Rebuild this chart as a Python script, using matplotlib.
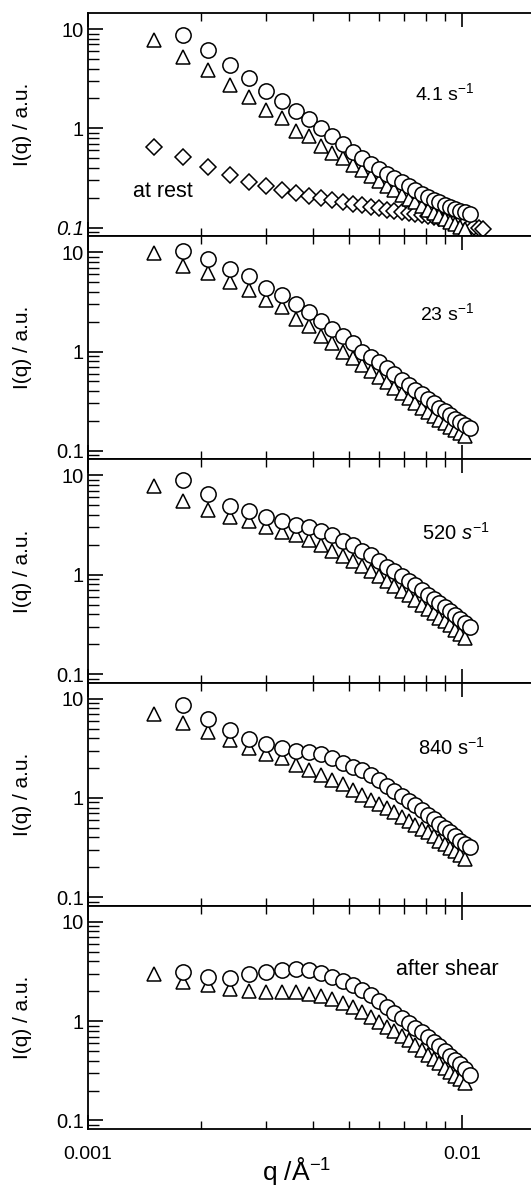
import matplotlib
matplotlib.use("Agg")
import matplotlib.pyplot as plt
from matplotlib.ticker import LogLocator, NullFormatter, FixedLocator, FixedFormatter

plt.rcParams["font.family"] = ["Liberation Sans", "DejaVu Sans"]
plt.rcParams["mathtext.fontset"] = "custom"
plt.rcParams["mathtext.rm"] = "Liberation Sans"
plt.rcParams["mathtext.it"] = "Liberation Sans:italic"

# q grid (1/Angstrom)
q = [0.0015, 0.0018, 0.0021, 0.0024, 0.0027, 0.0030, 0.0033, 0.0036, 0.0039,
     0.0042, 0.0045, 0.0048, 0.0051, 0.0054, 0.0057, 0.0060, 0.0063, 0.0066,
     0.0069, 0.0072, 0.0075, 0.0078, 0.0081, 0.0084, 0.0087, 0.0090, 0.0093,
     0.0096, 0.0099, 0.0102, 0.0105, 0.0108, 0.0111, 0.0114]

q_tri = q[0:30]
q_circ = q[1:31]
q_rest = q[0:34]

labels = ["4.1 s$^{-1}$", "23 s$^{-1}$", "520 $s^{-1}$", "840 s$^{-1}$", "after shear"]

tri = [
    [7.7, 5.2, 3.85, 2.7, 2.05, 1.52, 1.26, 0.95, 0.83, 0.67, 0.57, 0.50, 0.43,
     0.38, 0.33, 0.295, 0.265, 0.24, 0.215, 0.195, 0.18, 0.165, 0.152, 0.14,
     0.13, 0.122, 0.115, 0.108, 0.102, 0.096],
    [9.9, 7.2, 6.2, 5.0, 4.2, 3.3, 2.8, 2.15, 1.8, 1.45, 1.23, 1.0, 0.86, 0.74,
     0.64, 0.56, 0.49, 0.43, 0.38, 0.34, 0.30, 0.27, 0.245, 0.225, 0.205, 0.19,
     0.175, 0.162, 0.15, 0.14],
    [7.8, 5.5, 4.5, 3.8, 3.45, 3.0, 2.7, 2.5, 2.25, 2.0, 1.75, 1.55, 1.37, 1.22,
     1.08, 0.96, 0.86, 0.77, 0.69, 0.62, 0.56, 0.5, 0.45, 0.41, 0.37, 0.34,
     0.31, 0.28, 0.255, 0.23],
    [7.0, 5.7, 4.6, 3.8, 3.2, 2.75, 2.5, 2.17, 1.93, 1.7, 1.5, 1.37, 1.2, 1.06,
     0.96, 0.87, 0.79, 0.72, 0.65, 0.59, 0.54, 0.49, 0.45, 0.41, 0.37, 0.34,
     0.31, 0.29, 0.265, 0.245],
    [2.95, 2.45, 2.3, 2.1, 2.0, 1.95, 1.95, 1.95, 1.86, 1.78, 1.66, 1.52, 1.38,
     1.24, 1.1, 0.98, 0.88, 0.79, 0.71, 0.64, 0.57, 0.51, 0.46, 0.42, 0.38,
     0.34, 0.31, 0.28, 0.26, 0.24],
]

circ = [
    [8.7, 6.1, 4.3, 3.2, 2.36, 1.87, 1.48, 1.23, 1.0, 0.83, 0.69, 0.58, 0.50,
     0.44, 0.39, 0.35, 0.315, 0.285, 0.26, 0.24, 0.22, 0.205, 0.19, 0.18, 0.17,
     0.162, 0.155, 0.148, 0.143, 0.138],
    [10.2, 8.5, 6.7, 5.7, 4.4, 3.7, 3.0, 2.5, 2.05, 1.7, 1.42, 1.23, 1.0, 0.89,
     0.78, 0.68, 0.6, 0.52, 0.46, 0.41, 0.37, 0.33, 0.30, 0.27, 0.25, 0.23,
     0.21, 0.195, 0.18, 0.17],
    [9.0, 6.5, 4.9, 4.4, 3.8, 3.45, 3.2, 3.0, 2.75, 2.5, 2.2, 1.97, 1.72, 1.57,
     1.37, 1.2, 1.08, 0.97, 0.87, 0.78, 0.7, 0.63, 0.57, 0.52, 0.47, 0.43,
     0.39, 0.36, 0.33, 0.30],
    [8.7, 6.3, 4.8, 3.9, 3.5, 3.15, 3.0, 2.9, 2.75, 2.5, 2.27, 2.05, 1.9, 1.7,
     1.5, 1.33, 1.18, 1.05, 0.94, 0.84, 0.76, 0.68, 0.61, 0.55, 0.5, 0.45,
     0.41, 0.37, 0.345, 0.32],
    [3.1, 2.8, 2.75, 3.0, 3.15, 3.3, 3.35, 3.25, 3.05, 2.8, 2.55, 2.3, 2.05,
     1.82, 1.6, 1.4, 1.22, 1.08, 0.96, 0.86, 0.77, 0.69, 0.62, 0.56, 0.5, 0.45,
     0.41, 0.37, 0.33, 0.29],
]

at_rest = [0.65, 0.51, 0.41, 0.34, 0.29, 0.26, 0.24, 0.225, 0.21, 0.2, 0.19,
           0.182, 0.175, 0.168, 0.162, 0.157, 0.152, 0.148, 0.144, 0.141, 0.138,
           0.135, 0.132, 0.128, 0.124, 0.12, 0.117, 0.114, 0.111, 0.108, 0.105,
           0.102, 0.1, 0.098]

label_pos = [(0.805, 0.64), (0.81, 0.655), (0.83, 0.67), (0.82, 0.707), (0.81, 0.716)]
label_size = [14, 14, 14.5, 14.5, 15.5]

W, H = 531, 1197
fig = plt.figure(figsize=(W / 100, H / 100), dpi=100)

left_px, top_px, bottom_px = 88, 13, 1129
ph = (bottom_px - top_px) / 5

mk = dict(linestyle="none", markerfacecolor="white", markeredgecolor="black",
          markeredgewidth=1.1)

for i in range(5):
    y0 = top_px + i * ph
    ax = fig.add_axes([left_px / W, 1 - (y0 + ph) / H, 1 - left_px / W, ph / H])
    ax.set_xscale("log")
    ax.set_yscale("log")
    ax.set_xlim(0.001, 0.0153)
    ax.set_ylim(0.082, 14.5)

    if i == 0:
        ax.plot(q_rest, at_rest, marker="D", markersize=8.5, **mk)
    ax.plot(q_tri, tri[i], marker="^", markersize=9.5, **mk)
    ax.plot(q_circ, circ[i], marker="o", markersize=11, **mk)

    ax.text(label_pos[i][0], label_pos[i][1], labels[i], transform=ax.transAxes,
            ha="center", va="center", fontsize=label_size[i])
    if i == 0:
        ax.text(0.17, 0.2, "at rest", transform=ax.transAxes, ha="center",
                va="center", fontsize=15.5)

    for s in ["left", "bottom", "top"]:
        ax.spines[s].set_linewidth(1.3)
    ax.spines["right"].set_visible(False)

    ax.yaxis.set_major_locator(FixedLocator([0.1, 1, 10]))
    ax.yaxis.set_major_formatter(FixedFormatter(["0.1", "1", "10"]))
    ax.yaxis.set_minor_locator(LogLocator(base=10, subs=range(2, 10)))
    ax.yaxis.set_minor_formatter(NullFormatter())
    ax.tick_params(axis="y", which="major", direction="in", length=11, width=1.2,
                   labelsize=14.5, pad=3, right=False)
    ax.tick_params(axis="y", which="minor", direction="in", length=8, width=1.0,
                   right=False)

    ax.xaxis.set_major_locator(FixedLocator([0.001, 0.01]))
    ax.xaxis.set_minor_locator(LogLocator(base=10, subs=range(2, 10)))
    ax.xaxis.set_minor_formatter(NullFormatter())
    ax.tick_params(axis="x", which="major", direction="in", length=10, width=1.2,
                   top=True, labelsize=14, pad=12)
    ax.tick_params(axis="x", which="minor", direction="in", length=5.5, width=1.0,
                   top=True)
    if i < 4:
        ax.tick_params(axis="x", labelbottom=False)
    else:
        ax.xaxis.set_major_formatter(FixedFormatter(["0.001", "0.01"]))
        ax.set_xlabel("q /Å$^{-1}$", fontsize=19)
        ax.xaxis.set_label_coords(0.472, -0.115)

    ax.set_ylabel("I(q) / a.u.", fontsize=15)
    ax.yaxis.set_label_coords(-0.126, 0.5)

    if i == 0:
        for lab in ax.get_yticklabels():
            if lab.get_text() == "0.1":
                lab.set_fontstyle("italic")

fig.savefig("out.png", dpi=100)
